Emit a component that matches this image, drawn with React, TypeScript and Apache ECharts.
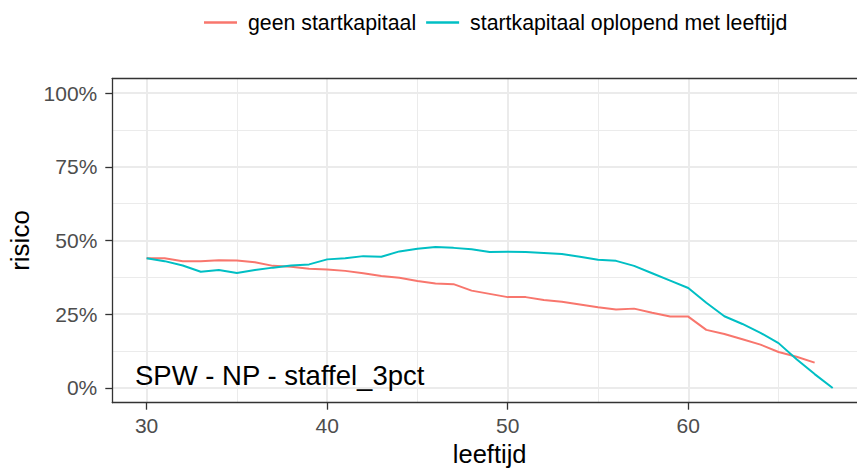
import React, { useEffect, useRef } from "react";
import * as echarts from "echarts";

const ages = [
  30, 31, 32, 33, 34, 35, 36, 37, 38, 39, 40, 41, 42, 43, 44, 45, 46, 47, 48, 49,
  50, 51, 52, 53, 54, 55, 56, 57, 58, 59, 60, 61, 62, 63, 64, 65, 66, 67, 68,
];

const geenStartkapitaal = [
  44.0, 44.0, 43.0, 43.0, 43.3, 43.2, 42.6, 41.4, 41.1, 40.4, 40.2, 39.7, 38.9, 38.0,
  37.4, 36.3, 35.4, 35.2, 33.0, 31.9, 30.8, 30.8, 29.8, 29.2, 28.3, 27.4, 26.6, 26.9,
  25.5, 24.2, 24.2, 19.7, 18.3, 16.5, 14.7, 12.2, 10.6, 8.6,
];

const startkapitaalOplopend = [
  44.0, 43.0, 41.5, 39.4, 40.0, 39.0, 40.0, 40.8, 41.5, 41.9, 43.6, 44.0, 44.7, 44.5,
  46.3, 47.2, 47.8, 47.5, 47.0, 46.1, 46.2, 46.1, 45.8, 45.4, 44.5, 43.5, 43.1, 41.4,
  38.9, 36.4, 33.9, 28.9, 24.3, 21.7, 18.7, 15.2, 9.7, 4.7, 0.0,
];

const seriesNames = ["geen startkapitaal", "startkapitaal oplopend met leeftijd"];
const xMajorTicks = [30, 40, 50, 60];
const xMinorTicks = [35, 45, 55, 65];
const yMajorTicks = [0, 25, 50, 75, 100];
const yMinorTicks = [12.5, 37.5, 62.5, 87.5];
const annotationText = "SPW - NP - staffel_3pct";

const FONT = '"Liberation Sans", Arial, sans-serif';

export default function App() {
  const ref = useRef<HTMLDivElement>(null);

  useEffect(() => {
    document.body.style.margin = "0";
    const chart = echarts.init(ref.current!, null, { renderer: "svg" });

    const xmin = 28.1;
    const xmax = 69.9;
    const ymin = -5;
    const ymax = 105;

    const axisLineStyle = { color: "#333333", width: 1.3 };

    chart.setOption({
      animation: false,
      backgroundColor: "#ffffff",
      textStyle: { fontFamily: FONT },
      grid: {
        left: 112.3,
        top: 78.3,
        right: -10,
        bottom: 65.3,
        containLabel: false,
        outerBoundsMode: "none",
      },
      legend: {
        left: 199,
        top: 7,
        icon: "rect",
        itemWidth: 33,
        itemHeight: 2.5,
        itemGap: 10,
        textStyle: { fontSize: 21.3, color: "#000000", fontFamily: FONT, padding: [0, 0, 0, 6] },
        data: seriesNames,
      },
      xAxis: [
        {
          type: "value",
          min: xmin,
          max: xmax,
          position: "bottom",
          name: "leeftijd",
          nameLocation: "middle",
          nameGap: 38,
          nameTextStyle: { fontSize: 25.5, color: "#000000", fontFamily: FONT },
          axisLine: { show: true, onZero: false, lineStyle: axisLineStyle },
          axisTick: { show: true, length: 7, customValues: xMajorTicks, lineStyle: axisLineStyle },
          axisLabel: {
            customValues: xMajorTicks,
            margin: 12,
            fontSize: 21,
            color: "#4D4D4D",
            fontFamily: FONT,
          },
          splitLine: { show: true, lineStyle: { color: "#EBEBEB", width: 2 } },
        },
        {
          type: "value",
          min: xmin,
          max: xmax,
          position: "top",
          axisLine: { show: true, onZero: false, lineStyle: axisLineStyle },
          axisTick: { show: false, customValues: xMinorTicks },
          axisLabel: { show: false, customValues: xMinorTicks },
          splitLine: { show: true, lineStyle: { color: "#EBEBEB", width: 1 } },
        },
      ],
      yAxis: [
        {
          type: "value",
          min: ymin,
          max: ymax,
          position: "left",
          name: "risico",
          nameLocation: "middle",
          nameGap: 78,
          nameTextStyle: { fontSize: 26, color: "#000000", fontFamily: FONT },
          axisLine: { show: true, onZero: false, lineStyle: axisLineStyle },
          axisTick: { show: true, length: 7, customValues: yMajorTicks, lineStyle: axisLineStyle },
          axisLabel: {
            customValues: yMajorTicks,
            margin: 15,
            fontSize: 21,
            color: "#4D4D4D",
            fontFamily: FONT,
            formatter: "{value}%",
          },
          splitLine: { show: true, lineStyle: { color: "#EBEBEB", width: 2 } },
        },
        {
          type: "value",
          min: ymin,
          max: ymax,
          position: "right",
          axisLine: { show: true, onZero: false, lineStyle: axisLineStyle },
          axisTick: { show: false, customValues: yMinorTicks },
          axisLabel: { show: false, customValues: yMinorTicks },
          splitLine: { show: true, lineStyle: { color: "#EBEBEB", width: 1 } },
        },
      ],
      graphic: [
        {
          type: "text",
          x: 135,
          y: 375.5,
          z: 100,
          style: {
            text: annotationText,
            font: `27.5px ${FONT}`,
            fill: "#000000",
            verticalAlign: "middle",
            align: "left",
          },
        },
      ],
      series: [
        {
          name: seriesNames[0],
          type: "line",
          xAxisIndex: 0,
          yAxisIndex: 0,
          data: geenStartkapitaal.map((v, i) => [ages[i], v]),
          showSymbol: false,
          symbol: "none",
          color: "#F8766D",
          lineStyle: { color: "#F8766D", width: 2 },
        },
        {
          name: seriesNames[1],
          type: "line",
          xAxisIndex: 0,
          yAxisIndex: 0,
          data: startkapitaalOplopend.map((v, i) => [ages[i], v]),
          showSymbol: false,
          symbol: "none",
          color: "#00BFC4",
          lineStyle: { color: "#00BFC4", width: 2 },
        },
      ],
    });

    return () => chart.dispose();
  }, []);

  return (
    <div
      ref={ref}
      style={{ position: "absolute", left: 0, top: 0, width: 857, height: 468 }}
    />
  );
}
